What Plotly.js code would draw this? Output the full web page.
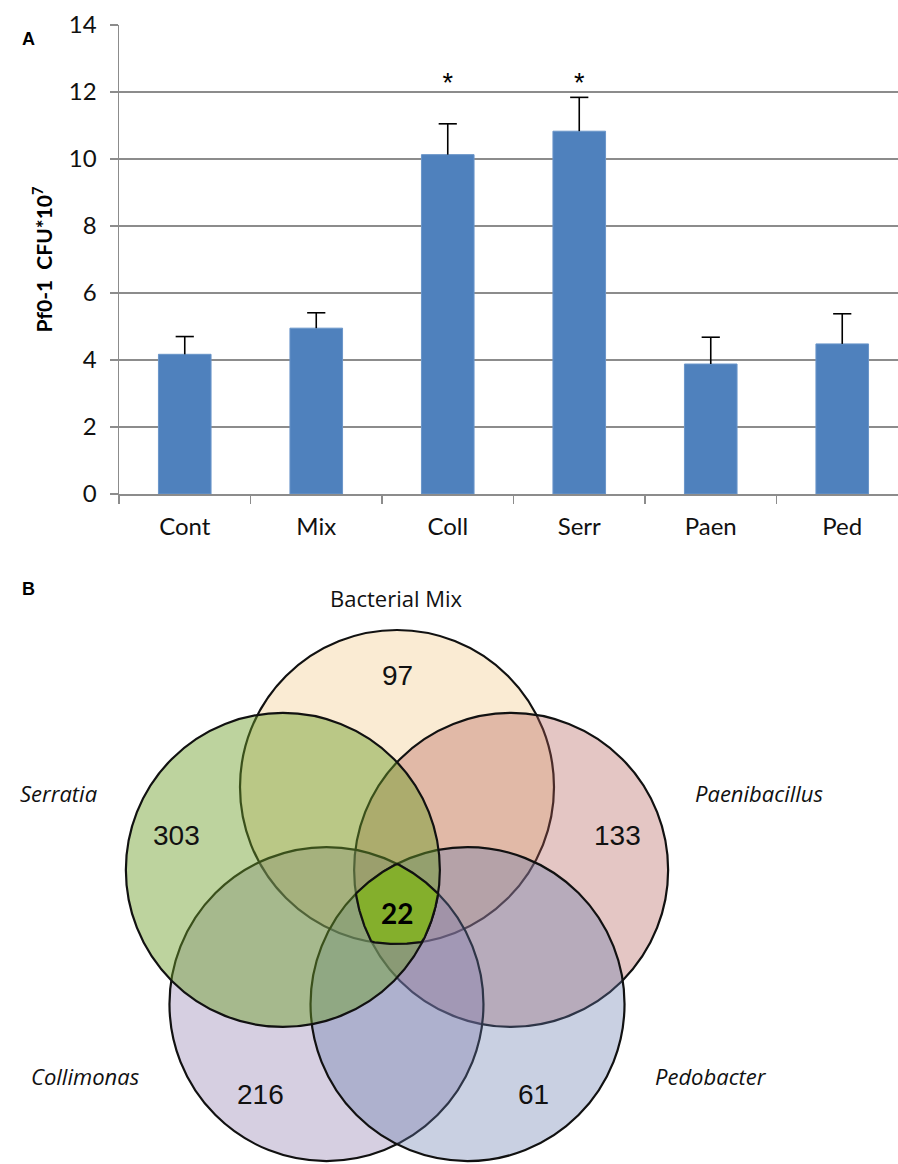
<!DOCTYPE html>
<html>
<head>
<meta charset="utf-8">
<script src="https://cdn.plot.ly/plotly-3.0.1.min.js"></script>
<style>html,body{margin:0;padding:0;background:#fff}#chart{width:898px;height:1164px}</style>
</head>
<body>
<div id="chart"></div>
<script>
// ---------- Panel A data ----------
const categories = ['Cont', 'Mix', 'Coll', 'Serr', 'Paen', 'Ped'];
const cfuValues = [4.17, 4.95, 10.13, 10.83, 3.88, 4.48];
const cfuErrors = [0.53, 0.46, 0.92, 1.01, 0.80, 0.90];
const significance = ['', '', '*', '*', '', ''];
const yTicks = [0, 2, 4, 6, 8, 10, 12, 14];

// ---------- Panel B data ----------
const setNames = ['Bacterial Mix', 'Paenibacillus', 'Pedobacter', 'Collimonas', 'Serratia'];
const uniqueCounts = [97, 133, 61, 216, 303];
const coreCount = 22;

// ---------- layout / style (not data) ----------
const W = 898, H = 1164;
const px = v => v / W;            // pixel -> paper x
const py = v => 1 - v / H;        // pixel -> paper y (from top)
const gray = '#8c8c8c';
const barFont = 'Lato, "Open Sans", sans-serif';
const vennFont = '"Open Sans", Lato, sans-serif';
const starLevel = 12.2;

const venn = {cx: 397, cy: 907, ringR: 120, circleR: 157, countR: 232, top: 560};
const setStyle = [
  {fill: 'rgba(241,198,129,0.35)', italic: false, lx: 396, ly: 598},
  {fill: 'rgba(178,92,86,0.35)',   italic: true,  lx: 759, ly: 793},
  {fill: 'rgba(101,121,172,0.35)', italic: true,  lx: 711, ly: 1076},
  {fill: 'rgba(138,118,169,0.35)', italic: true,  lx: 85,  ly: 1076},
  {fill: 'rgba(108,157,39,0.45)',  italic: true,  lx: 58,  ly: 793}
];
const drawOrder = [0, 1, 3, 2, 4];

// circle centres on a regular pentagon
const centres = setNames.map((_, k) => {
  const t = (-90 + 72 * k) * Math.PI / 180;
  return [venn.cx + venn.ringR * Math.cos(t), venn.cy + venn.ringR * Math.sin(t)];
});

const shapes = drawOrder.map(k => ({
  type: 'circle', xref: 'x2', yref: 'y2', layer: 'below',
  x0: centres[k][0] - venn.circleR, x1: centres[k][0] + venn.circleR,
  y0: centres[k][1] - venn.circleR, y1: centres[k][1] + venn.circleR,
  fillcolor: setStyle[k].fill,
  line: {color: '#111', width: 2.2}
}));

// core region = intersection of all five circles
const coreX = [], coreY = [];
for (let a = 0; a <= 360; a += 1) {
  const t = a * Math.PI / 180, ux = Math.cos(t), uy = Math.sin(t);
  let d = Infinity;
  centres.forEach(c => {
    const vx = venn.cx - c[0], vy = venn.cy - c[1];
    const b = ux * vx + uy * vy;
    const s = -b + Math.sqrt(b * b - (vx * vx + vy * vy) + venn.circleR * venn.circleR);
    d = Math.min(d, s);
  });
  coreX.push(venn.cx + d * ux);
  coreY.push(venn.cy + d * uy);
}

const errTops = cfuValues.map((v, i) => v + cfuErrors[i]);
const starIdx = significance.map((s, i) => s ? i : -1).filter(i => i >= 0);

const traces = [
  {
    type: 'bar', x: categories, y: cfuValues, xaxis: 'x', yaxis: 'y',
    width: 0.4, marker: {color: '#4f81bd', line: {color: '#6a95c9', width: 1}},
    error_y: {type: 'data', symmetric: false, array: cfuErrors,
              arrayminus: cfuErrors.map(() => 0), color: '#000', thickness: 1.6, width: 0},
    hoverinfo: 'skip'
  },
  { // error-bar caps
    type: 'scatter', mode: 'markers', x: categories, y: errTops, xaxis: 'x', yaxis: 'y',
    marker: {symbol: 'line-ew-open', size: 13, color: '#000', line: {color: '#000', width: 1.6}},
    hoverinfo: 'skip'
  },
  { // significance stars
    type: 'scatter', mode: 'text',
    x: starIdx.map(i => categories[i]), y: starIdx.map(() => starLevel),
    text: starIdx.map(i => significance[i]), textposition: 'middle center', xaxis: 'x', yaxis: 'y',
    textfont: {family: 'Liberation Sans, Arial', size: 27, color: '#000'},
    hoverinfo: 'skip'
  },
  {
    type: 'scatter', mode: 'lines', x: coreX, y: coreY, xaxis: 'x2', yaxis: 'y2',
    fill: 'toself', fillcolor: '#84af2c', line: {color: '#111', width: 2.2},
    hoverinfo: 'skip'
  }
];

const annotations = [];
// panel letters
annotations.push({xref: 'paper', yref: 'paper', x: px(20), y: py(27), text: '<b>A</b>',
  showarrow: false, font: {family: 'Liberation Sans, Arial', size: 18, color: '#000'}});
annotations.push({xref: 'paper', yref: 'paper', x: px(20), y: py(589), text: '<b>B</b>',
  showarrow: false, font: {family: 'Liberation Sans, Arial', size: 18, color: '#000'}});
// Venn counts
uniqueCounts.forEach((n, k) => {
  const t = (-90 + 72 * k) * Math.PI / 180;
  annotations.push({xref: 'x2', yref: 'y2',
    x: venn.cx + venn.countR * Math.cos(t), y: venn.cy + venn.countR * Math.sin(t),
    text: String(n), showarrow: false,
    font: {family: 'Liberation Sans, Arial', size: 28, color: '#111'}});
});
annotations.push({xref: 'x2', yref: 'y2', x: venn.cx, y: venn.cy + 6, text: '<b>' + coreCount + '</b>',
  showarrow: false, font: {family: barFont, size: 28, color: '#000'}});
// Venn set names
setNames.forEach((name, k) => {
  annotations.push({xref: 'x2', yref: 'y2', x: setStyle[k].lx, y: setStyle[k].ly,
    text: setStyle[k].italic ? '<i>' + name + '</i>' : name, showarrow: false,
    font: {family: vennFont, size: 22, color: '#111'}});
});

const layout = {
  width: W, height: H,
  margin: {l: 0, r: 0, t: 0, b: 0},
  paper_bgcolor: '#fff', plot_bgcolor: 'rgba(0,0,0,0)',
  showlegend: false,
  xaxis: {
    domain: [px(119), 1], anchor: 'y', type: 'category',
    range: [-0.5, 5.424], fixedrange: true,
    showline: true, linecolor: gray, linewidth: 1.5,
    ticks: 'outside', tickson: 'boundaries', ticklen: 8, tickcolor: gray, tickwidth: 1.5,
    showgrid: false, zeroline: false,
    tickfont: {family: barFont, size: 24, color: '#111'}, ticklabelstandoff: 11
  },
  yaxis: {
    domain: [py(494), py(25)], anchor: 'x',
    range: [0, 14], tickvals: yTicks, fixedrange: true,
    showline: true, linecolor: gray, linewidth: 1.5,
    showgrid: true, gridcolor: gray, gridwidth: 1.5, zeroline: false,
    ticks: 'outside', ticklen: 8, tickcolor: gray, tickwidth: 1.5,
    tickfont: {family: barFont, size: 24, color: '#111'}, ticklabelstandoff: 8,
    title: {text: 'Pf0-1\u00a0 CFU*10<sup>7</sup>', standoff: 10,
            font: {family: barFont, size: 21, color: '#000', weight: 'bold'}}
  },
  xaxis2: {domain: [0, 1], anchor: 'y2', range: [0, W], visible: false, fixedrange: true},
  yaxis2: {domain: [0, py(venn.top)], anchor: 'x2', range: [H, venn.top], visible: false, fixedrange: true},
  shapes: shapes,
  annotations: annotations
};

Plotly.newPlot('chart', traces, layout, {displayModeBar: false, staticPlot: true});
</script>
</body>
</html>
